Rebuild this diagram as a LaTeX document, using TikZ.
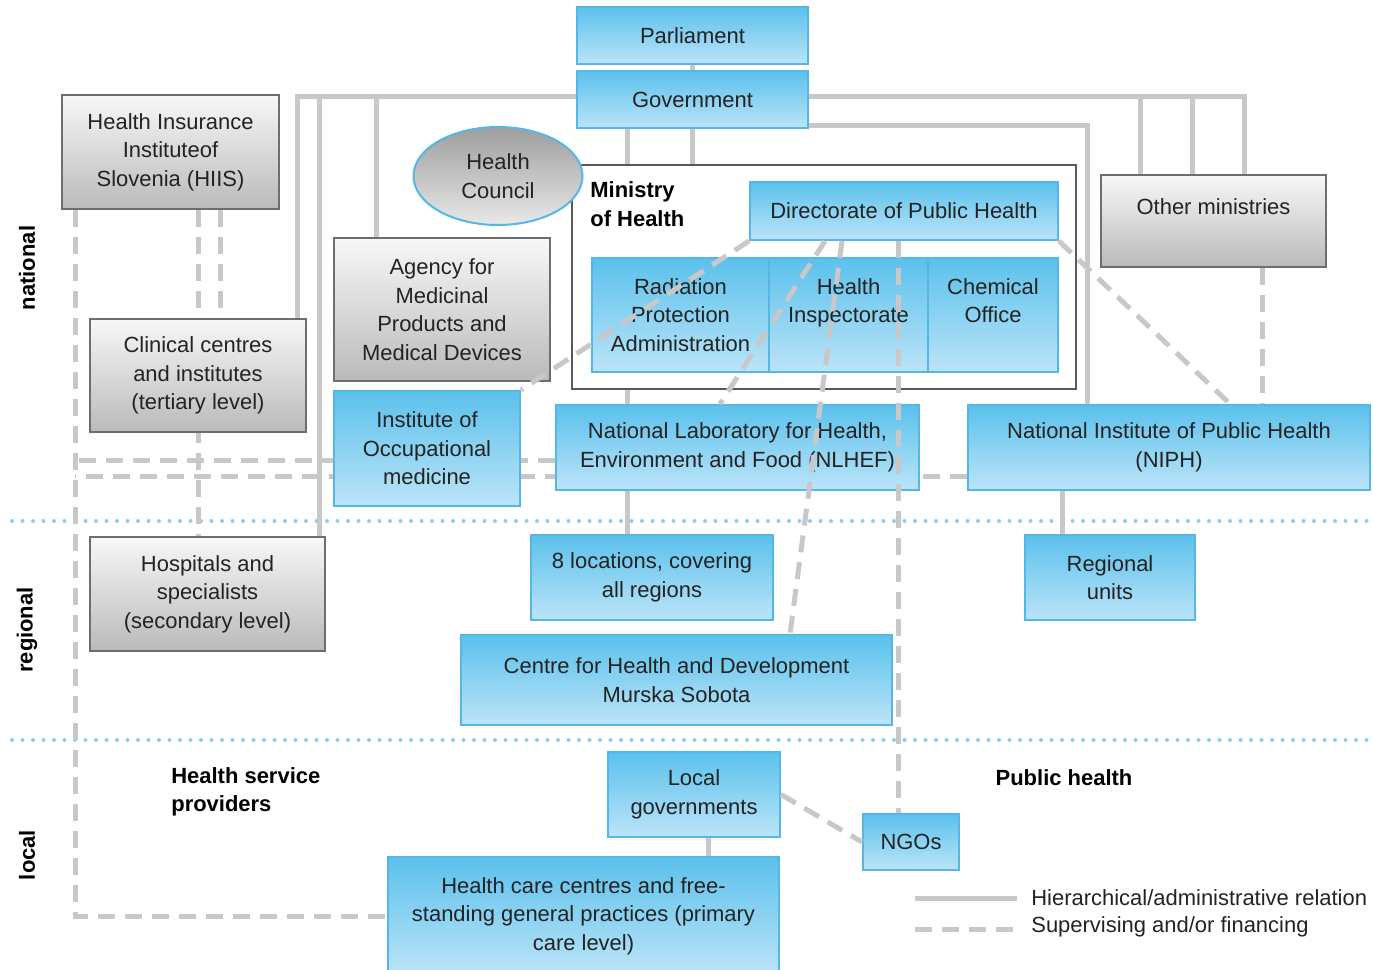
\documentclass[tikz,border=0pt]{standalone}
\usepackage{fontspec}
\setmainfont{Liberation Sans}
\usetikzlibrary{shapes.geometric, backgrounds}

\definecolor{boxblue}{HTML}{5BC1EC}
\definecolor{boxpale}{HTML}{BCE4F8}
\definecolor{boxline}{HTML}{55B7E6}
\definecolor{boxgrayline}{HTML}{6E6E6E}
\definecolor{linkgray}{HTML}{C8C8C8}
\definecolor{bandblue}{HTML}{8FCDEE}
\definecolor{inktext}{HTML}{232323}

\tikzstyle{every node}+=[inner sep=0pt]
\tikzstyle{bluebox}=[draw=boxline, line width=0.4mm, top color=boxblue, bottom color=boxpale, align=center, text=inktext]
\tikzstyle{graybox}=[draw=boxgrayline, line width=0.4mm, top color=black!3, bottom color=black!27, align=center, text=inktext]
\tikzstyle{hier}=[draw=linkgray, line width=1mm]
\tikzstyle{super}=[draw=linkgray, line width=1mm, dash pattern=on 3.4mm off 2mm]
\tikzstyle{band}=[draw=bandblue, line width=0.8mm, line cap=round, dash pattern=on 0pt off 2.1mm]
\tikzstyle{tag}=[font=\fontsize{12.5}{16.2}\selectfont\bfseries, text=black]
\tikzset{boxsize/.style 2 args={minimum width=#1*0.2mm, minimum height=#2*0.2mm}}

\begin{document}
\begin{tikzpicture}[x=0.2mm, y=-0.2mm, font=\fontsize{12.5}{16.2}\selectfont]
\useasboundingbox (0,0) rectangle (1373,970);

\draw (824,277) node [draw=black!65, line width=0.4mm, fill=white, boxsize={504}{224}] (moh) {};
\draw (590,204) node [tag, anchor=west, align=left] (mohtag) {Ministry\\of Health};

\draw (692.5,35.5) node [bluebox, boxsize={231}{57}] (parl) {Parliament};
\draw (692.5,99.5) node [bluebox, boxsize={231}{57}] (gov) {Government};
\draw (170.5,155) node [graybox, boxsize={217}{114}, yshift=0.6mm] (hiis) {Health Insurance\\Instituteof\\Slovenia (HIIS)};
\draw (498,176) node [ellipse, draw=boxline, line width=0.4mm, top color=black!38, bottom color=black!9, align=center, text=inktext, boxsize={169}{98}] (council) {Health\\Council};

\draw (904,211) node [bluebox, boxsize={308}{58}] (dph) {Directorate of Public Health};
\draw (680.5,315) node [bluebox, boxsize={177}{114}] (rpa) {Radiation\\Protection\\Administration};
\draw (848.5,315) node [bluebox, boxsize={159}{114}] (hinsp) {Health\\Inspectorate\\~};
\draw (993,315) node [bluebox, boxsize={130}{114}] (chem) {Chemical\\Office\\~};

\draw (1213.5,219) node [graybox, boxsize={225}{92}, yshift=-0.4mm] (other) {Other ministries\\~};
\draw (442,309.5) node [graybox, boxsize={216}{143}] (agency) {Agency for\\Medicinal\\Products and\\Medical Devices};
\draw (198,375.5) node [graybox, boxsize={216}{113}] (clin) {Clinical centres\\and institutes\\(tertiary level)};
\draw (427,448.5) node [bluebox, boxsize={186}{115}] (iom) {Institute of\\Occupational\\medicine};
\draw (737.5,447.5) node [bluebox, boxsize={363}{85}] (nlhef) {National Laboratory for Health,\\Environment and Food (NLHEF)};
\draw (1169,447.5) node [bluebox, boxsize={402}{85}] (niph) {National Institute of Public Health\\(NIPH)};

\draw (207.5,594) node [graybox, boxsize={235}{114}] (hosp) {Hospitals and\\specialists\\(secondary level)};
\draw (652,577.5) node [bluebox, boxsize={242}{85}] (loc8) {8 locations, covering\\all regions};
\draw (1110,577.5) node [bluebox, boxsize={170}{85}] (reg) {Regional\\units};
\draw (676.5,680) node [bluebox, boxsize={431}{90}] (chd) {Centre for Health and Development\\Murska Sobota};

\draw (694,794.5) node [bluebox, boxsize={172}{85}] (localgov) {Local\\governments};
\draw (911,842) node [bluebox, boxsize={96}{56}] (ngo) {NGOs};
\draw (583.5,916) node [bluebox, boxsize={391}{118}] (hcc) {Health care centres and free-\\standing general practices (primary\\care level)};

\draw (27,268) node [tag, rotate=90] (natl) {national};
\draw (27,630) node [tag, rotate=90] (regl) {regional};
\draw (27,855) node [tag, rotate=90] (locl) {local};
\draw (171,792) node [tag, anchor=west, align=left] (hsp) {Health service\\providers};
\draw (1064,778) node [tag] (ph) {Public health};

\begin{scope}[on background layer]
\draw [band] (12,521) -- (1370,521);
\draw [band] (12,740) -- (1370,740);

\draw [hier] (parl) -- (gov);
\draw [hier] ([yshift=0.5mm]gov.west) -| ([xshift=-2mm]clin.north east);
\draw [hier] ([yshift=0.5mm]gov.west) -| ([xshift=-1.4mm]hosp.north east);
\draw [hier] ([yshift=0.5mm]gov.west) -| ([xshift=8.6mm]agency.north west);
\draw [hier] ([yshift=0.5mm]gov.east) -| ([xshift=8mm]other.north west);
\draw [hier] ([yshift=0.5mm]gov.east) -| ([xshift=18.4mm]other.north west);
\draw [hier] ([yshift=0.5mm]gov.east) -| ([xshift=28.8mm]other.north west);
\draw [hier] ([yshift=0.6mm]gov.south east) -| ([xshift=24mm]niph.north west);
\draw [hier] ([xshift=-13.1mm]gov.south) -- ([xshift=-13.1mm]gov.south |- loc8.north);
\draw [hier] (gov.south) -- (gov.south |- moh.north);
\draw [hier] ([xshift=-9.6mm]reg.north) -- ([xshift=-9.6mm]reg.north |- niph.south);
\draw [hier] ([xshift=2.8mm]localgov.south) -- ([xshift=2.8mm]localgov.south |- hcc.north);

\coordinate (hiisA) at ([xshift=2.8mm]hiis.south west);
\draw [super] (hiisA) |- (hcc.west);
\draw [super] ([xshift=5.5mm]hiis.south) -- ([xshift=5.5mm]hiis.south |- hosp.north);
\draw [super] ([xshift=9.9mm]hiis.south) -- ([xshift=9.9mm]hiis.south |- clin.north);
\draw [super] ([yshift=-2.5mm]nlhef.west) -- ([yshift=-2.5mm]nlhef.west -| hiisA);
\draw [super] ([yshift=-5.7mm]niph.west) -- ([yshift=-5.7mm]niph.west -| hiisA);
\end{scope}

\draw [super] (dph.south west) -- (iom.north east);
\draw [super] ([xshift=-15.8mm]dph.south) -- ([xshift=-3.5mm]nlhef.north);
\draw [super] ([xshift=-12.4mm]dph.south) -- ([xshift=22.7mm]chd.north);
\draw [super] ([xshift=-2.6mm]ngo.north |- dph.south) -- ([xshift=-2.6mm]ngo.north);
\draw [super] (dph.south east) -- ([xshift=12.2mm]niph.north);
\draw [super] ([xshift=9.7mm]other.south) -- ([xshift=9.7mm]other.south |- niph.north);
\draw [super] (localgov.east) -- (ngo.west);

\coordinate (legA) at (915,898);
\coordinate (legB) at (1017,898);
\coordinate (legC) at (915,929);
\coordinate (legD) at (1017,929);
\draw [hier] (legA) -- (legB);
\draw [super] (legC) -- (legD);
\draw (1031,898) node [anchor=west, text=inktext] (legtxtA) {Hierarchical/administrative relation};
\draw (1031,927) node [anchor=west, text=inktext] (legtxtB) {Supervising and/or financing};
\end{tikzpicture}
\end{document}
